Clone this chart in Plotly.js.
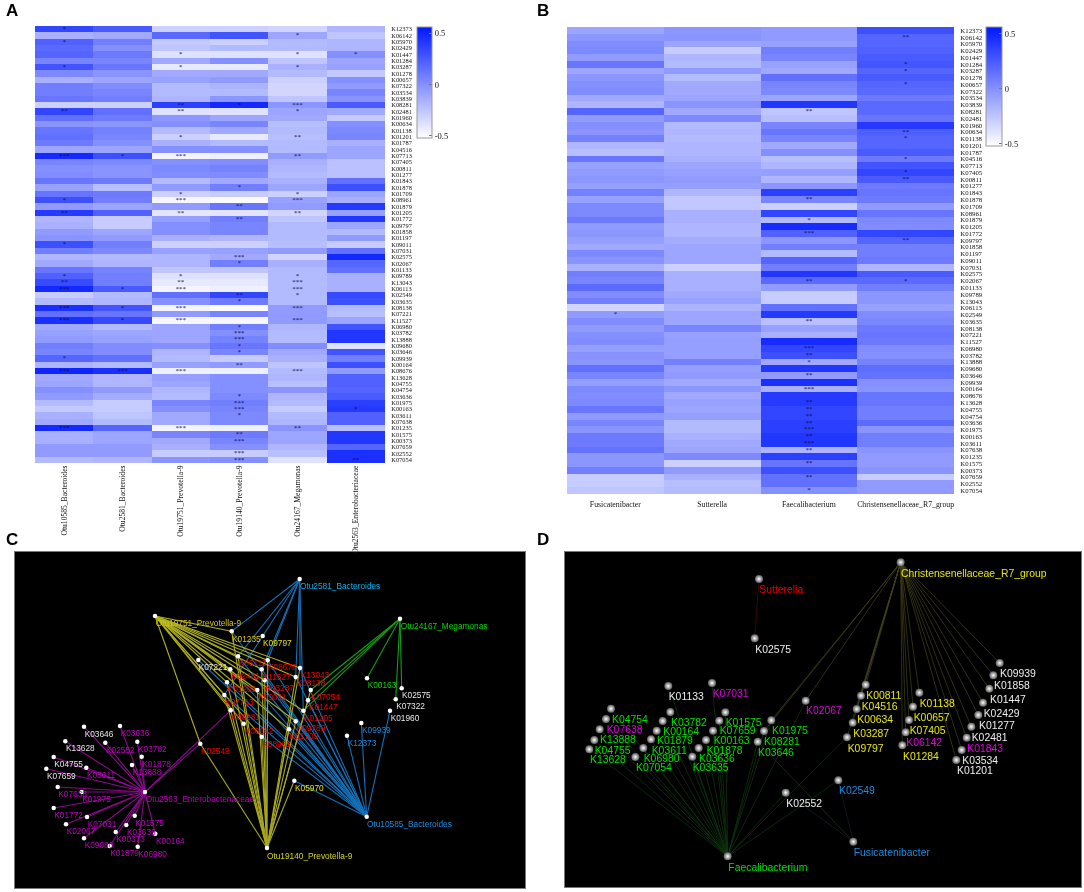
<!DOCTYPE html>
<html>
<head>
<meta charset="utf-8">
<script src="https://cdn.plot.ly/plotly-3.0.1.min.js"></script>
<style>html,body{margin:0;padding:0;background:#fff}#chart{width:1084px;height:892px;filter:blur(0.35px)}</style>
</head>
<body>
<div id="chart"></div>
<script>
// ---------- heatmap rows ----------
const rowsKO = ["K12373","K06142","K05970","K02429","K01447","K01284","K03287","K01278","K00657","K07322","K03534","K03839","K08281","K02481","K01960","K00634","K01138","K01201","K01787","K04516","K07713","K07405","K00811","K01277","K01843","K01878","K01709","K08961","K01879","K01205","K01772","K09797","K01858","K01197","K09011","K07031","K02575","K02067","K01133","K09789","K13043","K06113","K02549","K03635","K08138","K07221","K11527","K06980","K03782","K13888","K09680","K03646","K09939","K00164","K08676","K13628","K04755","K04754","K03636","K01975","K00163","K03611","K07638","K01235","K01575","K00373","K07659","K02552","K07054"];

// ---------- panel A ----------
const colsA = ["Otu10585_Bacteroides","Otu2581_Bacteroides","Otu19751_Prevotella-9","Otu19140_Prevotella-9","Otu24167_Megamonas","Otu2563_Enterobacteriaceae"];
const otu10585 = [.35,-.15,.22,.18,.2,.05,.28,.03,-.15,.08,.08,.12,-.3,.35,.15,-.02,.12,.15,.1,-.1,.48,.05,0,.02,.12,-.08,.13,.3,-.05,.4,-.18,-.15,-.05,-.02,.3,.08,-.18,-.12,.12,.22,.32,.48,-.28,-.2,.45,.15,.45,-.12,-.08,-.05,.08,.05,.2,-.17,.5,-.12,-.1,0,-.05,-.2,-.27,-.15,-.12,.48,-.15,-.15,-.05,-.05,-.2];
const otu2581 = [.25,-.12,.08,0,.1,.05,.12,-.02,-.1,.02,.05,.08,-.3,.15,.1,-.03,.07,.05,0,-.1,.3,.03,-.02,-.02,.1,-.22,.1,.08,-.1,.22,-.28,-.28,-.1,-.05,.08,.03,-.2,-.18,.06,.08,.08,.25,-.2,-.18,.28,.12,.33,-.2,-.1,-.08,.02,.02,.15,-.2,.45,-.18,-.18,-.05,-.13,-.28,-.28,-.25,-.2,.2,-.1,-.1,-.05,-.05,-.18];
const otu19751 = [-.3,.18,-.27,-.25,-.38,-.12,-.42,-.12,-.08,-.2,-.2,-.18,.38,-.38,-.03,0,-.2,-.3,-.15,0,-.47,0,.03,.02,-.2,-.05,-.3,-.48,-.05,-.4,-.07,0,0,-.15,-.3,-.08,-.18,-.18,-.25,-.38,-.42,-.47,.15,0,-.47,-.05,-.48,-.1,-.1,-.1,0,-.18,-.2,-.08,-.45,-.07,-.1,-.18,-.2,.05,0,-.12,-.12,-.47,.05,-.12,-.15,-.28,-.02];
const otu19140 = [-.3,.28,-.3,-.2,-.38,0,-.42,-.12,-.05,-.17,-.2,-.03,.48,-.38,-.1,.05,-.12,-.42,-.2,0,-.45,.02,.06,.02,-.12,.08,-.28,-.5,.12,-.4,.08,.05,.05,-.18,-.3,-.08,-.12,.08,-.25,-.38,-.42,-.45,.35,.1,-.5,.05,-.48,.08,0,.06,.12,.05,-.28,-.05,-.45,0,0,0,.03,.08,.05,.03,.03,-.45,.1,.05,0,-.28,0];
const otu24167 = [-.32,-.1,-.2,-.2,-.38,-.25,-.15,-.2,-.3,-.33,-.33,-.25,-.03,-.1,-.12,-.22,-.2,-.22,-.2,-.2,-.05,-.15,-.18,-.2,-.15,-.1,-.3,-.08,-.05,-.32,-.25,-.2,-.2,-.2,-.22,-.05,-.32,-.15,-.2,-.2,-.2,-.2,-.2,-.2,-.05,-.05,-.05,-.18,-.2,-.2,.02,-.12,-.15,-.25,-.2,-.18,-.22,-.02,-.18,-.2,-.28,-.2,-.18,-.02,-.1,-.1,-.18,-.22,-.38];
const otu2563 = [-.18,-.25,-.18,-.18,0,-.1,-.08,-.27,0,-.05,.05,-.02,.25,-.12,-.27,0,.03,.05,-.15,-.1,-.1,-.23,-.23,-.23,.15,.3,-.1,-.15,.4,-.08,.42,-.1,-.2,-.05,-.28,.15,.48,.2,.15,-.15,-.15,-.15,.33,.3,-.2,-.22,-.1,.28,.42,.42,-.38,.28,.08,.3,-.05,.22,.22,.2,.25,.38,.4,.22,.22,-.22,.42,.42,.2,.45,.45];
const starsA = [
  {col:0, rows:["K12373","K05970","K03287","K02481","K07713","K08961","K01205","K09011","K09789","K13043","K06113","K08138","K11527","K09939","K08676","K01235"], text:["*","*","*","**","***","*","**","*","*","**","***","***","***","*","***","***"]},
  {col:1, rows:["K07713","K06113","K08138","K11527","K08676"], text:["*","*","*","*","***"]},
  {col:2, rows:["K01447","K03287","K08281","K02481","K01201","K07713","K01709","K08961","K01205","K09789","K13043","K06113","K08138","K11527","K08676","K01235"], text:["*","*","**","**","*","***","*","***","**","*","**","***","***","***","***","***"]},
  {col:3, rows:["K08281","K01878","K01879","K01772","K02575","K02067","K02549","K03635","K06980","K03782","K13888","K09680","K03646","K00164","K03636","K01975","K00163","K03611","K01575","K00373","K02552","K07054"], text:["*","*","**","**","***","*","**","*","*","***","***","*","*","**","*","***","***","*","**","***","***","***"]},
  {col:4, rows:["K06142","K01447","K03287","K08281","K02481","K01201","K07713","K01709","K08961","K01205","K09789","K13043","K06113","K02549","K08138","K11527","K08676","K01235"], text:["*","*","*","***","*","**","**","*","***","**","*","***","***","*","***","***","***","**"]},
  {col:5, rows:["K01447","K00163","K07054"], text:["*","*","**"]}
];

// ---------- panel B ----------
const colsB = ["Fusicatenibacter","Sutterella","Faecalibacterium","Christensenellaceae_R7_group"];
const fusicatenibacter = [-.1,-.03,.02,.03,-.05,.12,-.1,-.03,0,.02,-.12,-.18,.2,-.05,0,-.02,.07,-.18,-.22,.12,-.08,-.05,-.03,-.07,.07,-.08,.03,.03,.1,-.05,-.03,-.07,-.12,.03,-.02,-.15,.08,.05,.17,.02,.08,-.33,-.05,.02,-.05,0,.02,-.07,-.01,-.02,.15,.05,-.07,.03,.02,.03,.12,-.05,.05,-.02,.1,.1,.14,-.03,-.03,.08,-.28,-.28,-.25];
const sutterella = [-.03,-.02,-.1,-.28,-.18,-.2,-.05,-.2,-.12,-.12,-.1,-.02,-.12,.03,-.2,-.18,-.2,-.18,-.18,-.15,-.1,-.08,-.05,-.07,-.18,-.26,-.26,-.15,-.15,-.18,-.18,-.13,-.1,-.1,-.1,-.3,-.15,-.15,-.15,-.12,-.08,-.17,-.1,-.1,.05,-.08,-.07,-.07,-.07,.07,-.07,-.05,-.12,-.03,-.12,-.08,-.1,-.07,-.2,-.2,-.15,-.12,-.1,.03,-.3,-.05,-.15,-.22,-.2];
const faecalibacterium = [-.05,-.05,-.08,.08,.05,-.08,-.12,.15,.05,.03,-.1,.42,-.25,-.22,.05,.12,.05,-.12,0,-.22,-.18,-.07,-.18,-.03,.38,.05,-.3,.35,-.2,.47,.22,-.03,.08,-.2,.2,.08,.42,.18,-.05,-.28,-.28,.15,.4,-.22,-.08,-.15,.47,.35,.3,-.12,.42,-.05,.45,-.15,.4,.4,.35,.35,.38,.38,.42,.42,-.17,.38,.13,.3,.15,.15,0];
const christensenellaceae = [.3,.2,.2,.22,.25,.27,.2,.25,.2,.18,.1,.18,.18,.12,.4,.23,.2,.2,.25,.1,.28,.35,.25,.1,.13,.1,-.05,.12,.03,.02,.35,.2,.08,.08,.1,-.18,.25,.18,.08,-.03,-.03,-.08,.02,.04,.1,.12,.1,.02,0,.06,.16,.14,0,-.02,.12,.12,.08,.08,.17,-.02,.08,.08,-.02,-.05,-.05,-.02,-.28,-.05,-.05];
const starsB = [
  {col:0, rows:["K02549"], text:["*"]},
  {col:2, rows:["K08281","K01878","K01879","K01772","K02067","K03635","K06980","K03782","K13888","K03646","K00164","K13628","K04755","K04754","K03636","K01975","K00163","K03611","K07638","K01575","K07659","K07054"], text:["**","**","*","***","**","**","***","**","*","**","***","**","**","**","**","***","**","***","**","**","**","*"]},
  {col:3, rows:["K06142","K01284","K03287","K00657","K00634","K01138","K04516","K07405","K00811","K09797","K02067"], text:["**","*","*","*","**","*","*","*","**","**","*"]}
];

// ---------- panel C network: name, node x, node y, label x, label y, colour group ----------
const cNames = ["Otu2581_Bacteroides","Otu19751_Prevotella-9","Otu24167_Megamonas","Otu10585_Bacteroides","Otu19140_Prevotella-9","Otu2563_Enterobacteriaceae","K01235","K09797","K06113","K08676","K07221","K02481","K11527","K13043","K08138","K03287","K01201","K09011","K07054","K07713","K01447","K08281","K01205","K06142","K09789","K01709","K08961","K02549","K05970","K00163","K02575","K07322","K01960","K09939","K12373","K03646","K03636","K13628","K02552","K03782","K04755","K01878","K13888","K03611","K07659","K07638","K01975","K01772","K07031","K01575","K02067","K03635","K00373","K00164","K09680","K01879","K06980"];
const cNodeX = [299.7,155,400,366.7,267,145,231.7,262.7,238,267.7,198.3,230.3,261.7,300,295.7,264.7,227,257.3,310.7,224.3,308,230.7,303.3,243.7,295.7,289,261.7,200.3,294.3,367,401.7,395.7,390,361.3,347,84,120,65.3,105.3,137.3,53.7,141.7,132,86.3,46.3,57.7,81.7,53.7,87,134.7,66,126.3,115.7,155.3,84,109.7,137.7];
const cNodeY = [579,616,618.7,816.7,848,792,631.3,636,656.3,660.3,660,669.3,669.3,668,677,680.3,682.3,690,690,695,700.3,710.3,710.7,723.7,721.3,729.3,736.7,743.7,780.7,678.3,688.3,699.3,710.7,723,735.7,726.7,726,741.3,742.7,741.7,757,756.7,765,767.7,768.7,787,792,808,817,815.7,824.3,825,832,833.7,838.3,846,846.7];
const cLabelX = [300,155.7,400.7,367,267,145.7,232,263,238.7,268,198.7,231.3,262.7,300.7,296.7,265.3,227.7,258.3,311.3,225,309,231.3,304,244.7,296.7,289.7,262.3,201,295,367.7,402,396.3,390.7,362,347.7,84.7,120.7,66,106,138,54.3,142.3,132.7,87,47,58.3,82.3,54.3,87.7,135.3,66.7,127,116.3,156,84.7,110.3,138.3];
const cLabelY = [587,624,626.7,825,857,800,639.7,644,664,668,667.7,677.3,677.7,676,684.3,688.7,690.3,697.7,697.7,703,708.3,718,719,731.7,729,737.3,744.7,752,789,686.3,696,707,719,731,744,734.7,734.3,749,750.7,749.7,765,765,773,775.7,776.7,795,800,816.3,825,823.7,832.3,833.3,840,841.7,846.3,854,854.7];
const cLabelColor = ["#00b4f0","#d8c800","#00d800","#1a8ce0","#d8d800","#c000c0","#e8c800","#e8e000","#f00000","#f00000","#e8e8e8","#f00000","#f00000","#f00000","#f00000","#f00000","#f00000","#f00000","#f00000","#f00000","#f00000","#f00000","#f00000","#f00000","#f00000","#f00000","#f00000","#f00000","#e8e000","#00d800","#e8e8e8","#e8e8e8","#e8e8e8","#1a8ce0","#1a8ce0","#e8e8e8","#c000c0","#e8e8e8","#c000c0","#c000c0","#e8e8e8","#c000c0","#c000c0","#c000c0","#e8e8e8","#c000c0","#c000c0","#c000c0","#c000c0","#c000c0","#c000c0","#c000c0","#c000c0","#c000c0","#c000c0","#c000c0","#c000c0"];
const cEdges = [
  {hub:"Otu10585_Bacteroides", color:"#1470b8", to:["K12373","K09939","K01960","K05970","K07221","K01235","K06113","K02481","K11527","K13043","K08138","K03287","K01201","K09011","K07713","K01205","K09789","K08961","K01709","K01447","K08676"]},
  {hub:"Otu2581_Bacteroides", color:"#1470b8", to:["K01235","K06113","K11527","K08676","K08138","K07713","K13043","K01205"]},
  {hub:"Otu24167_Megamonas", color:"#12a012", to:["K00163","K02575","K07322","K07054","K01447","K01205"]},
  {hub:"Otu2563_Enterobacteriaceae", color:"#8a0a8a", to:["K02549","K08281","K03646","K03636","K13628","K02552","K03782","K04755","K01878","K13888","K03611","K07659","K07638","K01975","K01772","K07031","K01575","K02067","K03635","K00373","K00164","K09680","K01879","K06980"]},
  {hub:"Otu19140_Prevotella-9", color:"#a8a820", to:["K01235","K06113","K08676","K02481","K11527","K13043","K08138","K03287","K01201","K09011","K07713","K08281","K06142","K08961","K01709","K09789","K05970","K02549","K01447","K07054"]},
  {hub:"Otu19751_Prevotella-9", color:"#b0b020", to:["K01235","K06113","K08676","K02481","K11527","K13043","K08138","K03287","K01201","K09011","K07713","K08281","K06142","K01205","K09789","K01709","K08961","K02549"]}
];

// ---------- panel D network ----------
const dNames = ["Faecalibacterium","Christensenellaceae_R7_group","Sutterella","Fusicatenibacter","K01133","K07031","K04754","K03782","K01575","K01975","K07638","K00164","K07659","K08281","K13888","K01879","K00163","K03646","K04755","K03611","K01878","K13628","K06980","K03636","K07054","K03635","K02552","K02575","K02067","K00811","K04516","K00634","K03287","K09797","K01138","K00657","K07405","K06142","K01284","K09939","K01858","K01447","K02429","K01277","K02481","K01843","K03534","K01201","K02549"];
const dNodeX = [727.7,900.7,759,853.3,668.3,712,611,670.3,725.3,771.3,606,662.7,719.3,764,599.7,656.7,713,757.7,594.3,651,706,589.3,643.3,698.7,635.3,692.3,785.7,754.7,805.7,865.7,861,856.7,852.7,847,919.3,913,909,905.7,902.3,999.7,993.3,989.3,983,978.3,971.3,966.7,961.7,956.3,838.3];
const dNodeY = [856.3,562.3,579,841.7,686,683,708.7,712,712.3,720.3,719,721,720.7,731,729.3,730.7,730.7,741.7,740,739.3,740,749.3,748,748,757,756.7,792.7,638.3,700.7,684.7,695.7,709,722.7,737.3,692.7,706.7,720,732.3,745.3,663,675.3,688.7,702.7,715,726.7,737.7,750,760,780.3];
const dLabelX = [728.3,901,759.3,853.7,668.7,712.7,612,671,725.7,772,606.7,663.3,719.7,764,600,657,713.7,758,594.7,651.7,706.7,590,643.7,699,636,692.7,786.3,755.3,806,866.3,861.7,857.3,853.3,847.7,919.7,913.7,909.7,906.3,903,1000,994,990,983.7,979,971.7,967.3,962.3,957,839];
const dLabelY = [868,574,590,853.3,697.7,694.3,720.3,723,723.7,731.3,730.3,732.3,731.7,742,740.7,741.7,741.7,753.3,751.7,751,751,760.7,759.3,759.3,768.3,768.3,804,650,711.7,696,707,720.3,734.3,749,704.3,718.3,731.3,743.7,757.3,674.7,686.7,700.3,714.7,726.7,738.3,749.3,761.7,771.7,791.7];
const dLabelColor = ["#00e000","#e8e800","#e80000","#1a8ce0","#eeeeee","#e000e0","#00e000","#00e000","#00e000","#00e000","#e000e0","#00e000","#00e000","#00e000","#00e000","#00e000","#00e000","#00e000","#00e000","#00e000","#00e000","#00e000","#00e000","#00e000","#00e000","#00e000","#eeeeee","#eeeeee","#e000e0","#e8e800","#e8e800","#e8e800","#e8e800","#e8e800","#e8e800","#e8e800","#e8e800","#e000e0","#e8e800","#eeeeee","#eeeeee","#eeeeee","#eeeeee","#eeeeee","#eeeeee","#e000e0","#eeeeee","#eeeeee","#1a8ce0"];
const dEdges = [
  {hub:"Faecalibacterium", color:"#103a10", to:["K01133","K07031","K04754","K03782","K01575","K01975","K07638","K00164","K07659","K08281","K13888","K01879","K00163","K03646","K04755","K03611","K01878","K13628","K06980","K03636","K07054","K03635","K02552","K02067","K09797","K02549"]},
  {hub:"Christensenellaceae_R7_group", color:"#44441a", to:["K01975","K08281","K02067","K00811","K04516","K00634","K03287","K09797","K01138","K00657","K07405","K06142","K01284","K09939","K01858","K01447","K02429","K01277","K02481","K01843","K03534","K01201"]},
  {hub:"Sutterella", color:"#4a0a14", to:["K02575"]},
  {hub:"Fusicatenibacter", color:"#161f30", to:["K02552","K02549"]},
  {hub:"Fusicatenibacter", color:"#283428", to:["K03646"]}
];

// ---------- helpers ----------
const W = 1084, H = 892;
const SERIF = '"Liberation Serif", serif', SANS = '"Liberation Sans", Arial, sans-serif';
const domX = (a, b) => [a / W, b / W];
const domY = (top, bot) => [1 - bot / H, 1 - top / H];
const zRows = cols => rowsKO.map((_, i) => cols.map(c => c[i]));
const blues = [[0, "#ffffff"], [1, "#0018ff"]];

function heat(cols, names, xa, ya, cb) {
  return { type: "heatmap", x: names, y: rowsKO, z: zRows(cols), xaxis: xa, yaxis: ya,
    zmin: -0.52, zmax: 0.56, colorscale: blues, hoverongaps: false, colorbar: cb };
}
function bar(leftPx, topPx, lenPx, thick) {
  return { x: leftPx / W, xanchor: "left", y: 1 - topPx / H, yanchor: "top", len: lenPx, lenmode: "pixels",
    thickness: thick, thicknessmode: "pixels", xpad: 0, ypad: 0, outlinecolor: "#999", outlinewidth: 1,
    tickmode: "array", tickvals: [-0.5, 0, 0.5], ticktext: ["-0.5", "0", "0.5"], ticks: "inside", ticklen: 3, tickcolor: "#777",
    tickfont: { family: SERIF, size: 8.5, color: "#111" } };
}
function stars(list, names, xa, ya) {
  const x = [], y = [], t = [];
  list.forEach(g => g.rows.forEach((r, i) => { x.push(names[g.col]); y.push(r); t.push(g.text[i]); }));
  return { type: "scatter", mode: "text", x, y, text: t, xaxis: xa, yaxis: ya, showlegend: false, hoverinfo: "skip",
    textposition: "middle center", textfont: { family: SERIF, size: 7, color: "#101040" } };
}
function edges(list, names, nx, ny, xa, ya, width) {
  return list.map(e => {
    const h = names.indexOf(e.hub), x = [], y = [];
    e.to.forEach(n => { const k = names.indexOf(n); x.push(nx[h], nx[k], null); y.push(ny[h], ny[k], null); });
    return { type: "scatter", mode: "lines", x, y, xaxis: xa, yaxis: ya, showlegend: false, hoverinfo: "skip",
      line: { color: e.color, width } };
  });
}
function nodes(nx, ny, names, xa, ya, marker) {
  return { type: "scatter", mode: "markers", x: nx, y: ny, text: names, xaxis: xa, yaxis: ya, showlegend: false, hoverinfo: "text", marker };
}
function labels(lx, ly, names, colors, xa, ya, size) {
  return { type: "scatter", mode: "text", x: lx, y: ly, text: names, xaxis: xa, yaxis: ya, showlegend: false, hoverinfo: "skip",
    textposition: "middle right", textfont: { family: SANS, size, color: colors } };
}

const data = [
  heat([otu10585, otu2581, otu19751, otu19140, otu24167, otu2563], colsA, "x", "y", bar(417, 27, 111, 15)),
  stars(starsA, colsA, "x", "y"),
  heat([fusicatenibacter, sutterella, faecalibacterium, christensenellaceae], colsB, "x2", "y2", bar(986, 27, 119, 16)),
  stars(starsB, colsB, "x2", "y2"),
  ...edges(cEdges, cNames, cNodeX, cNodeY, "x3", "y3", 1.1),
  nodes(cNodeX, cNodeY, cNames, "x3", "y3", { size: 4.5, color: "#ffffff", line: { width: 0 } }),
  labels(cLabelX, cLabelY, cNames, cLabelColor, "x3", "y3", 8.3),
  ...edges(dEdges, dNames, dNodeX, dNodeY, "x4", "y4", 0.7),
  nodes(dNodeX, dNodeY, dNames, "x4", "y4", { size: 8, color: "#5a5a5a", gradient: { type: "radial", color: "#ffffff" }, line: { width: 0 } }),
  labels(dLabelX, dLabelY, dNames, dLabelColor, "x4", "y4", 10.4)
];

const heatY = (dom, size) => ({ domain: dom, type: "category", range: [68.5, -0.5], side: "right", anchor: "free", showgrid: false, zeroline: false,
  ticks: "outside", ticklen: 4, tickcolor: "rgba(0,0,0,0)", tickmode: "array", tickvals: rowsKO, ticktext: rowsKO, tickfont: { family: SERIF, size, color: "#111" }, showline: false });
const netX = (l, r) => ({ domain: domX(l, r), range: [l, r], showgrid: false, zeroline: false, showticklabels: false, ticks: "", showline: true, mirror: true, linecolor: "#777", linewidth: 1 });
const netY = (t, b) => ({ domain: domY(t, b), range: [b, t], showgrid: false, zeroline: false, showticklabels: false, ticks: "", showline: true, mirror: true, linecolor: "#777", linewidth: 1 });

const layout = {
  width: W, height: H, margin: { l: 0, r: 0, t: 0, b: 0 }, paper_bgcolor: "#fff", plot_bgcolor: "#000", showlegend: false, autosize: false,
  xaxis: { domain: domX(35, 385), anchor: "y", type: "category", range: [-0.5, 5.5], showgrid: false, zeroline: false, ticks: "", tickangle: -90, tickfont: { family: SERIF, size: 7.6, color: "#111" }, showline: false },
  yaxis: Object.assign(heatY(domY(26, 463), 6.4), { position: 385 / W }),
  xaxis2: { domain: domX(567, 954), anchor: "y2", type: "category", range: [-0.5, 3.5], showgrid: false, zeroline: false, ticks: "outside", ticklen: 3, tickcolor: "rgba(0,0,0,0)", tickangle: 0, tickfont: { family: SERIF, size: 7.8, color: "#111" }, showline: false },
  yaxis2: Object.assign(heatY(domY(27, 494), 6.8), { position: 954 / W }),
  xaxis3: Object.assign(netX(15, 525), { anchor: "y3" }),
  yaxis3: Object.assign(netY(552, 888), { anchor: "x3" }),
  xaxis4: Object.assign(netX(565, 1081), { anchor: "y4" }),
  yaxis4: Object.assign(netY(552, 887), { anchor: "x4" }),
  annotations: [["A", 4, 11], ["B", 535, 10], ["C", 4, 539], ["D", 535, 539]].map(a => ({
    text: "<b>" + a[0] + "</b>", xref: "paper", yref: "paper", x: a[1] / W, y: 1 - a[2] / H, xanchor: "left", yanchor: "middle",
    showarrow: false, xshift: 0, font: { family: SANS, size: 17, color: "#000" } }))
};
Plotly.newPlot("chart", data, layout, { displayModeBar: false, responsive: false });
</script>
</body>
</html>
